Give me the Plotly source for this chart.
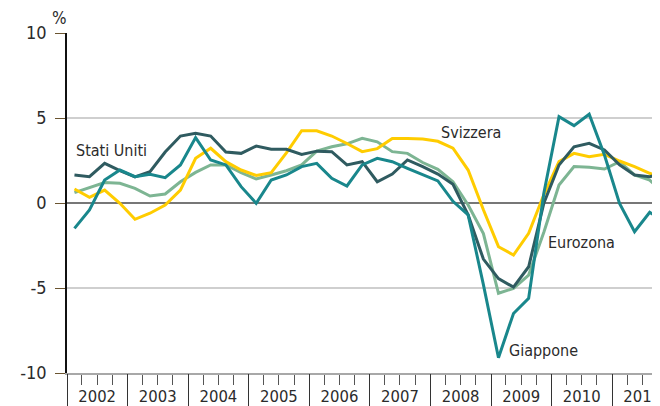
import plotly.graph_objects as go
import pandas as pd

# Quarterly periods 2002Q1 .. 2011Q4
quarters = [str(p.start_time.date()) for p in pd.period_range("2002Q1", "2011Q4", freq="Q")]
years = list(range(2002, 2012))
year_labels = [str(y) for y in years]

stati_uniti = [1.65, 1.55, 2.33, 1.90, 1.53, 1.84, 3.00, 3.94, 4.10, 3.94,
               3.00, 2.92, 3.35, 3.16, 3.16, 2.86, 3.05, 3.02, 2.24, 2.43,
               1.25, 1.70, 2.53, 2.14, 1.70, 1.10, -0.70, -3.30, -4.45, -4.95,
               -3.75, 0.00, 2.24, 3.30, 3.51, 3.12, 2.24, 1.65, 1.55, 1.75]

svizzera = [0.82, 0.33, 0.76, -0.02, -0.96, -0.60, -0.12, 0.76, 2.63, 3.22,
            2.43, 1.94, 1.62, 1.78, 2.95, 4.25, 4.25, 3.94, 3.50, 3.02,
            3.20, 3.80, 3.80, 3.76, 3.63, 3.22, 1.94, -0.40, -2.57, -3.06,
            -1.78, 0.50, 2.43, 2.92, 2.72, 2.86, 2.47, 2.14, 1.75, 1.40]

giappone = [-1.49, -0.41, 1.35, 1.94, 1.55, 1.69, 1.49, 2.24, 3.85, 2.53,
            2.24, 0.96, -0.02, 1.35, 1.65, 2.14, 2.33, 1.45, 1.00, 2.24,
            2.63, 2.43, 2.04, 1.65, 1.30, 0.10, -0.70, -4.80, -9.10, -6.50,
            -5.60, 0.60, 5.08, 4.55, 5.22, 2.82, -0.02, -1.69, -0.55, -1.10]

eurozona = [0.61, 0.92, 1.20, 1.16, 0.86, 0.41, 0.53, 1.25, 1.80, 2.24,
            2.24, 1.78, 1.41, 1.65, 1.90, 2.24, 3.05, 3.31, 3.48, 3.80,
            3.60, 3.02, 2.92, 2.38, 1.98, 1.25, -0.12, -1.80, -5.31, -5.02,
            -4.24, -1.70, 1.06, 2.14, 2.10, 2.00, 2.43, 1.65, 1.35, 0.50]

y_ticks = [-10, -5, 0, 5, 10]
y_tick_text = ["-10", "-5", "0", "5", "10"]

FONT = "DejaVu Sans Condensed, DejaVu Sans, sans-serif"
TXT = "#2b2b2b"

series = [
    ("Eurozona", eurozona, "#7db593"),
    ("Svizzera", svizzera, "#ffcc00"),
    ("Stati Uniti", stati_uniti, "#2f5b60"),
    ("Giappone", giappone, "#19878c"),
]

fig = go.Figure()
for name, vals, col in series:
    fig.add_trace(go.Scatter(
        x=quarters, y=vals, name=name, mode="lines",
        xperiod="M3", xperiodalignment="middle",
        line=dict(color=col, width=3), showlegend=False,
    ))

labels = [
    ("Stati Uniti", "2002-02-10", 3.1),
    ("Svizzera", "2008-02-20", 4.15),
    ("Eurozona", "2009-12-01", -2.35),
    ("Giappone", "2009-04-10", -8.65),
]
for text, xd, yv in labels:
    fig.add_annotation(x=xd, y=yv, xref="x", yref="y", text=text,
                       showarrow=False, xanchor="left", yanchor="middle",
                       font=dict(family=FONT, size=16, color=TXT))

fig.add_annotation(x=0, y=1, xref="paper", yref="paper", text="%",
                   showarrow=False, xanchor="right", yanchor="bottom",
                   xshift=2, yshift=3,
                   font=dict(family=FONT, size=17, color=TXT))

# primary x axis: year labels centred in each year, quarter minor ticks
fig.update_layout(xaxis=dict(
    type="date", range=["2002-01-01", "2011-10-17"], automargin=False,
    tickmode="array", tickvals=[f"{y}-07-02" for y in years], ticktext=year_labels,
    ticks="", showgrid=False,
    minor=dict(tickmode="linear", tick0="2002-01-01", dtick="M3",
               ticks="outside", ticklen=10, tickcolor="#555", tickwidth=1,
               showgrid=False),
    showline=True, linecolor="#a8a8a8", linewidth=1.5,
    ticklabelstandoff=7,
    tickfont=dict(family=FONT, size=16.5, color=TXT),
))
# overlay axis: long year-boundary ticks
fig.update_layout(xaxis2=dict(
    type="date", overlaying="x", matches="x", anchor="y", side="bottom",
    range=["2002-01-01", "2011-10-17"], automargin=False,
    tickmode="array", tickvals=[f"{y}-01-01" for y in years],
    ticks="outside", ticklen=40, tickwidth=1.3, tickcolor="#333",
    showticklabels=False, showgrid=False, showline=False, zeroline=False,
))
fig.add_trace(go.Scatter(x=[quarters[0]], y=[None], xaxis="x2", yaxis="y",
                         showlegend=False, hoverinfo="skip"))

fig.update_yaxes(
    range=[-10, 10], tickvals=y_ticks, ticktext=y_tick_text, automargin=False,
    ticks="outside", ticklen=10, tickwidth=1.3, tickcolor="#6b5530",
    showline=True, linecolor="#111", linewidth=1.5,
    showgrid=True, gridcolor="#cfcfcf", gridwidth=1.5,
    zeroline=True, zerolinecolor="#777", zerolinewidth=2,
    ticklabelstandoff=5,
    tickfont=dict(family=FONT, size=18, color=TXT),
)
# the page body adds an 8 px offset, so margins are reduced by 8 px
fig.update_layout(
    width=660, height=406,
    margin=dict(l=59, r=8, t=25, b=41),
    plot_bgcolor="white", paper_bgcolor="white",
    font=dict(family=FONT, color=TXT),
)
fig.write_html("out.html")
